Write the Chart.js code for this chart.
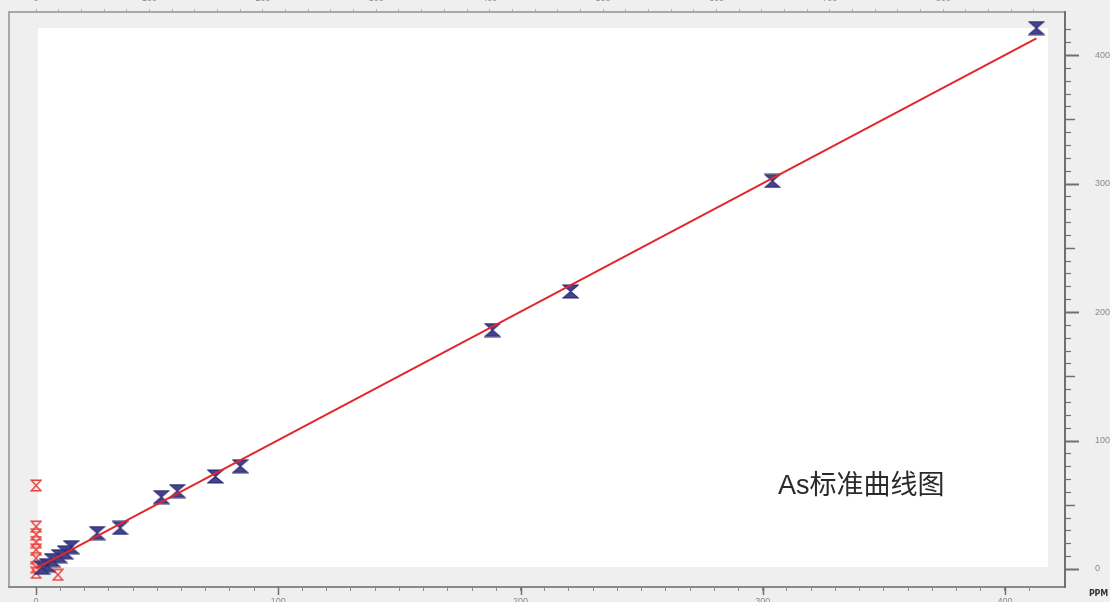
<!DOCTYPE html>
<html><head><meta charset="utf-8">
<script src="https://cdn.jsdelivr.net/npm/chart.js@4"></script>
<style>
html,body{margin:0;padding:0;background:#efefef;overflow:hidden;}
#wrap{position:relative;width:1110px;height:602px;}
canvas{position:absolute;left:0;top:0;}
#title{position:absolute;left:778px;top:463px;font:27px "Liberation Sans","Noto Sans CJK SC";color:#2a2a2a;white-space:nowrap;}
#unit{position:absolute;left:1089px;top:589px;font:bold 8px "DejaVu Sans";color:#333;letter-spacing:-0.3px;}
</style></head>
<body><div id="wrap"><canvas id="c" width="1110" height="602"></canvas><div id="title">As标准曲线图</div><div id="unit">PPM</div></div>
<script>
// Standards (blue markers): concentration (PPM) vs measured
const stdX = [413, 304, 220.7, 188.4, 84.3, 74, 58.3, 51.7, 34.7, 25.2, 14.5, 12, 9.5, 6.6, 4.5, 2.5];
const stdY = [421, 302, 216, 186, 80, 72, 60.7, 56, 32, 28, 17, 13, 10, 7, 3, 1];
// Blanks / excluded points (red hollow markers)
const blankX = [0, 0, 0, 0, 0, 0, 0, 0, 9];
const blankY = [65, 33, 27, 21, 15, 8.5, 1.5, -3, -4.5];
// Calibration fit line
const fitX = [0, 413];
const fitY = [0.5, 413];
// Axis ranges and tick labels
const xRange = [-11.2, 424.8];
const yRange = [-14, 433.5];
const topFactor = 2.136;
const bottomLabels = [0, 100, 200, 300, 400];
const rightLabels = [0, 100, 200, 300, 400];
const topLabels = [0, 100, 200, 300, 400, 500, 600, 700, 800, 900];

function hourglass(w, h, fill, stroke, lw) {
  const c = document.createElement('canvas');
  c.width = w; c.height = h;
  const g = c.getContext('2d');
  const m = lw / 2 + 0.5;
  g.beginPath();
  g.moveTo(m, m); g.lineTo(w - m, m); g.lineTo(w / 2, h / 2);
  g.lineTo(w - m, h - m); g.lineTo(m, h - m); g.lineTo(w / 2, h / 2);
  g.closePath();
  g.fillStyle = fill; g.fill();
  g.lineWidth = lw; g.strokeStyle = stroke; g.stroke();
  return c;
}
const blueMark = hourglass(17, 15, '#44448f', '#2c2c72', 1.2);
const redMark = hourglass(12, 13, 'rgba(255,240,240,0.5)', '#e8403a', 1.4);

function pts(xs, ys) { return xs.map((x, i) => ({ x: x, y: ys[i] })); }
function keepStep(step) {
  return s => { s.ticks = s.ticks.filter(t => Math.abs(t.value / step - Math.round(t.value / step)) < 1e-6); };
}

const framePlugin = {
  id: 'frame',
  beforeDraw(chart) {
    const a = chart.chartArea, ctx = chart.ctx;
    ctx.save();
    ctx.fillStyle = '#ffffff';
    ctx.fillRect(a.left + 29, a.top + 16, (a.right - 17) - (a.left + 29), (a.bottom - 20) - (a.top + 16));
    ctx.strokeStyle = '#a8a8a8'; ctx.lineWidth = 2;
    ctx.beginPath(); ctx.moveTo(a.left, a.top); ctx.lineTo(a.left, a.bottom); ctx.stroke();
    ctx.restore();
  },
  afterDraw(chart) {
    const a = chart.chartArea, ctx = chart.ctx;
    const y = chart.scales.y, x = chart.scales.x;
    ctx.save();
    ctx.strokeStyle = '#707070';
    y.ticks.forEach(t => {
      const v = t.value;
      const p = Math.round(y.getPixelForValue(v)) + 0.5;
      let len = 6, lw = 1.2;
      if (Math.abs(v % 100) < 1e-6) { len = 14; lw = 2; }
      else if (Math.abs(v % 50) < 1e-6) { len = 10; lw = 1.5; }
      ctx.lineWidth = lw;
      ctx.beginPath(); ctx.moveTo(a.right, p); ctx.lineTo(a.right + len, p); ctx.stroke();
    });
    ctx.lineWidth = 1.5;
    bottomLabels.forEach(v => {
      const p = Math.round(x.getPixelForValue(v)) + 0.5;
      ctx.beginPath(); ctx.moveTo(p, a.bottom); ctx.lineTo(p, a.bottom + 8); ctx.stroke();
    });
    ctx.restore();
  }
};

new Chart(document.getElementById('c'), {
  data: {
    datasets: [
      { type: 'line', data: pts(fitX, fitY), borderColor: '#e3262c', borderWidth: 2, pointRadius: 0, order: 0, xAxisID: 'x', yAxisID: 'y' },
      { type: 'scatter', data: pts(stdX, stdY), pointStyle: blueMark, order: 1, xAxisID: 'x', yAxisID: 'y' },
      { type: 'scatter', data: pts(blankX, blankY), pointStyle: redMark, order: 2, xAxisID: 'x', yAxisID: 'y' }
    ]
  },
  options: {
    responsive: false, animation: false,
    layout: { padding: { left: 9, top: 0, right: 0, bottom: 0 } },
    plugins: { legend: { display: false }, tooltip: { enabled: false } },
    scales: {
      x: {
        type: 'linear', position: 'bottom', min: xRange[0], max: xRange[1],
        afterFit: s => { s.height = 15; },
        afterBuildTicks: keepStep(10),
        border: { display: true, color: '#8a8a8a', width: 2 },
        grid: { drawOnChartArea: false, drawTicks: true, tickLength: 4, color: '#8a8a8a', lineWidth: 1 },
        ticks: { stepSize: 10, autoSkip: false, maxRotation: 0, padding: 5, color: '#8a8a8a',
          font: { family: 'Liberation Sans', size: 9 },
          callback: v => bottomLabels.includes(v) ? String(v) : '' }
      },
      x2: {
        type: 'linear', position: 'top', min: xRange[0] * topFactor, max: xRange[1] * topFactor,
        afterFit: s => { s.height = 12; },
        afterBuildTicks: keepStep(20),
        border: { display: true, color: '#a8a8a8', width: 2 },
        grid: { drawOnChartArea: false, drawTicks: true, tickLength: 3, color: '#b0b0b0' },
        ticks: { stepSize: 20, autoSkip: false, maxRotation: 0, padding: 5, color: '#8a8a8a',
          font: { family: 'Liberation Sans', size: 9 },
          callback: v => topLabels.includes(v) ? String(v) : '' }
      },
      y: {
        type: 'linear', position: 'right', min: yRange[0], max: yRange[1],
        afterFit: s => { s.width = 45; },
        afterBuildTicks: keepStep(10),
        border: { display: true, color: '#707070', width: 2 },
        grid: { drawOnChartArea: false, drawTicks: true, tickLength: 28, color: 'rgba(0,0,0,0)' },
        ticks: { stepSize: 10, autoSkip: false, padding: 2, color: '#8a8a8a',
          font: { family: 'Liberation Sans', size: 9 },
          callback: v => rightLabels.includes(v) ? String(v) : '' }
      }
    }
  },
  plugins: [framePlugin]
});
</script>
</body></html>
